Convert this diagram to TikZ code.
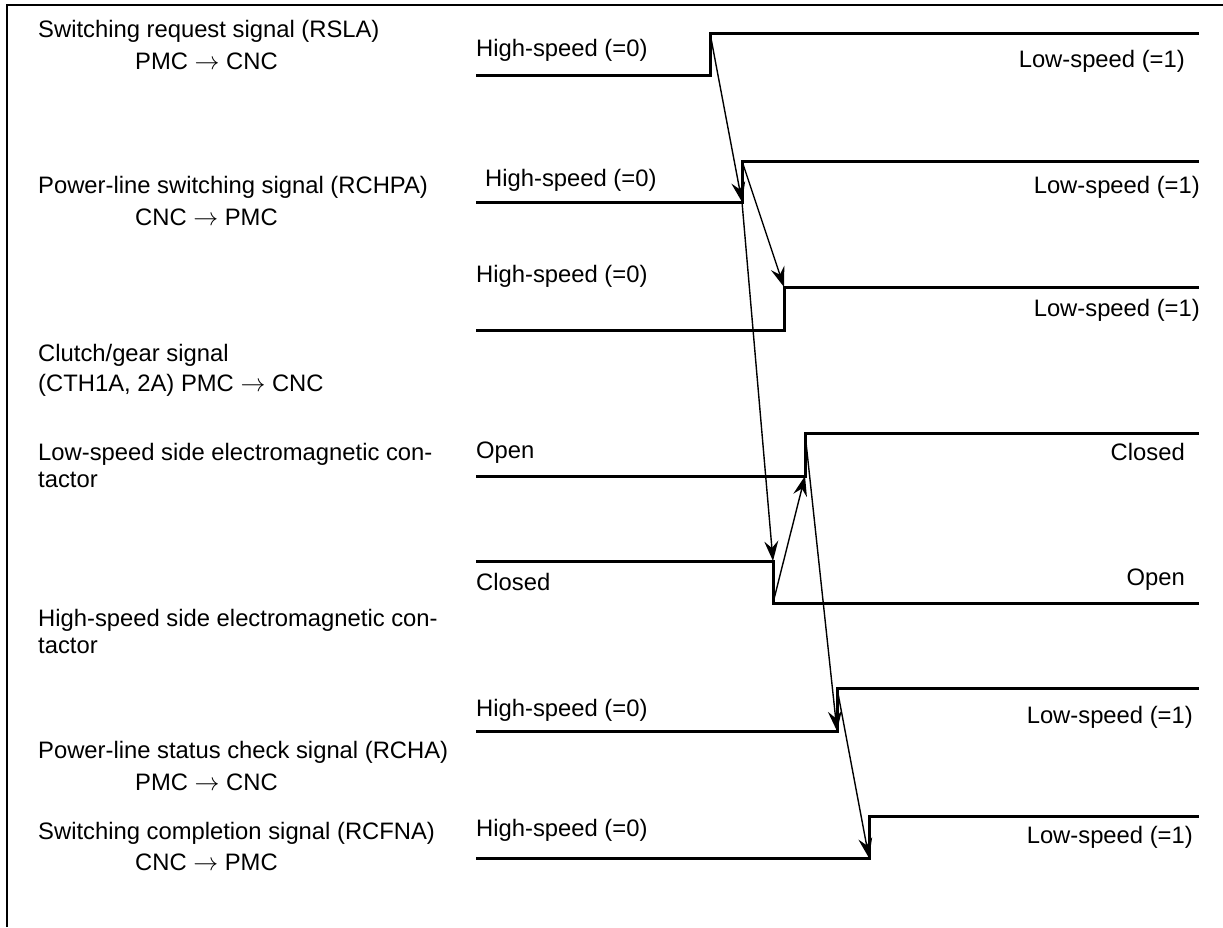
\documentclass[tikz,border=0pt]{standalone}
\usepackage{fontspec}
\setmainfont{Liberation Sans}
\usetikzlibrary{arrows.meta}
\newcommand{\sigto}{$\rightarrow$}
\begin{document}
\begin{tikzpicture}[x=1pt,y=-1pt,
  lbl/.style={inner sep=0pt, font=\fontsize{23.8}{27}\selectfont},
  lft/.style={lbl, anchor=west},
  rgt/.style={lbl, anchor=east},
  sig/.style={line width=3pt, line join=miter},
  cause/.style={line width=1.4pt, -{Stealth[length=20pt,width=14pt,inset=7pt]}},
  frm/.style={line width=2pt}]
\useasboundingbox (0,0) rectangle (1223,927);
% frame
\draw[frm] (7,927) -- (7,5) -- (1223,5);

% left labels
\node[lft] (l1a) at (38,31)  {Switching request signal (RSLA)};
\node[lft] (l1b) at (135,61) {PMC \sigto{} CNC};
\node[lft] (l2a) at (38,187) {Power-line switching signal (RCHPA)};
\node[lft] (l2b) at (135,217) {CNC \sigto{} PMC};
\node[lft] (l3a) at (38,355) {Clutch/gear signal};
\node[lft] (l3b) at (38,385) {(CTH1A, 2A) PMC \sigto{} CNC};
\node[lft, align=left] (l4) at (38,465) {Low-speed side electromagnetic con-\\tactor};
\node[lft, align=left] (l5) at (38,631) {High-speed side electromagnetic con-\\tactor};
\node[lft] (l6a) at (38,752) {Power-line status check signal (RCHA)};
\node[lft] (l6b) at (135,782) {PMC \sigto{} CNC};
\node[lft] (l7a) at (38,833) {Switching completion signal (RCFNA)};
\node[lft] (l7b) at (135,862) {CNC \sigto{} PMC};

% step coordinates
\coordinate (s1b) at (710,75);  \coordinate (s1t) at (710,33);
\coordinate (s2b) at (742,202); \coordinate (s2t) at (742,161);
\coordinate (s3b) at (784,330); \coordinate (s3t) at (784,287);
\coordinate (s4b) at (805,476); \coordinate (s4t) at (805,433);
\coordinate (s5t) at (773,561); \coordinate (s5b) at (773,603);
\coordinate (s6b) at (837,731); \coordinate (s6t) at (837,688);
\coordinate (s7b) at (869,858); \coordinate (s7t) at (869,816);

% signal waveforms
\draw[sig] (476,75)  -- (s1b) -- (s1t) -- (1199,33);
\draw[sig] (476,202) -- (s2b) -- (s2t) -- (1199,161);
\draw[sig] (476,330) -- (s3b) -- (s3t) -- (1199,287);
\draw[sig] (476,476) -- (s4b) -- (s4t) -- (1199,433);
\draw[sig] (476,561) -- (s5t) -- (s5b) -- (1199,603);
\draw[sig] (476,731) -- (s6b) -- (s6t) -- (1199,688);
\draw[sig] (476,858) -- (s7b) -- (s7t) -- (1199,816);

% state labels
\node[lft] (h1) at (476,50)  {High-speed (=0)};
\node[rgt] (w1) at (1185,61) {Low-speed (=1)};
\node[lft] (h2) at (485,180) {High-speed (=0)};
\node[rgt] (w2) at (1200,187) {Low-speed (=1)};
\node[lft] (h3) at (476,276) {High-speed (=0)};
\node[rgt] (w3) at (1200,310) {Low-speed (=1)};
\node[lft] (o4) at (476,453) {Open};
\node[rgt] (c4) at (1185,452) {Closed};
\node[lft] (c5) at (476,582) {Closed};
\node[rgt] (o5) at (1185,580) {Open};
\node[lft] (h6) at (476,710) {High-speed (=0)};
\node[rgt] (w6) at (1193,717) {Low-speed (=1)};
\node[lft] (h7) at (476,830) {High-speed (=0)};
\node[rgt] (w7) at (1193,837) {Low-speed (=1)};

% cause-effect arrows
\draw[cause] (s1t) -- (s2b);
\draw[cause] (s2t) -- (s3t);
\draw[cause] (s2b) -- (s5t);
\draw[cause] (s5b) -- (s4b);
\draw[cause] (s4t) -- (s6b);
\draw[cause] (s6t) -- (s7b);
\end{tikzpicture}
\end{document}
